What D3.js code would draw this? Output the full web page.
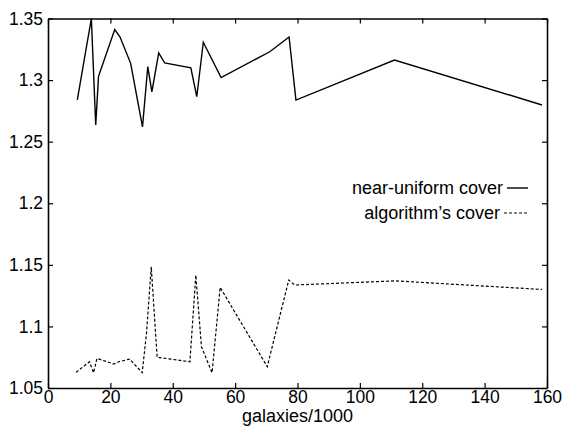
<!DOCTYPE html>
<html>
<head>
<meta charset="utf-8">
<script src="https://cdn.jsdelivr.net/npm/d3@7"></script>
<style>
  body { margin: 0; background: #fff; }
  text { font-family: "Liberation Sans", Arial, sans-serif; fill: #000; }
</style>
</head>
<body>
<div id="chart"></div>
<script>
/* DATA */
const uniformX = [9.4, 13.9, 15.3, 16.2, 21.4, 23.1, 26.5, 30.3, 32.0, 33.3, 35.5, 37.4, 45.8, 47.7, 49.8, 55.5, 71.1, 77.3, 79.5, 111.1, 158.4];
const uniformY = [1.284, 1.350, 1.2635, 1.303, 1.341, 1.335, 1.3136, 1.262, 1.311, 1.2905, 1.322, 1.314, 1.310, 1.2865, 1.3307, 1.302, 1.323, 1.335, 1.2838, 1.3163, 1.2798];

const algoX = [9.0, 13.3, 14.6, 15.7, 21.1, 22.7, 26.2, 30.2, 31.6, 33.1, 35.0, 45.5, 47.4, 49.2, 52.6, 55.2, 70.3, 77.2, 79.1, 111.4, 158.4];
const algoY = [1.0627, 1.0713, 1.0624, 1.074, 1.0695, 1.0713, 1.0735, 1.0624, 1.095, 1.1485, 1.075, 1.0713, 1.1417, 1.0835, 1.0624, 1.1317, 1.0673, 1.1377, 1.1336, 1.137, 1.130];

const xTicks = [0, 20, 40, 60, 80, 100, 120, 140, 160];
const yTicks = [1.05, 1.1, 1.15, 1.2, 1.25, 1.3, 1.35];
const legendLabels = ["near-uniform cover", "algorithm\u2019s cover"];
const xLabel = "galaxies/1000";

/* LAYOUT */
const width = 562, height = 427;
const margin = { top: 18.5, right: 15, bottom: 39, left: 48 };

const svg = d3.select("#chart").append("svg")
  .attr("width", width)
  .attr("height", height);

const xScale = d3.scaleLinear()
  .domain([0, 160])
  .range([margin.left, width - margin.right]);

const yScale = d3.scaleLinear()
  .domain([1.05, 1.35])
  .range([height - margin.bottom, margin.top]);

// axes, ticks point inward
const tickLen = 5;
const fmtY = d => d3.format(".2~f")(d);

svg.append("g")
  .attr("transform", `translate(0,${yScale(1.05)})`)
  .call(d3.axisBottom(xScale).tickValues(xTicks).tickSizeInner(-tickLen).tickSizeOuter(0).tickPadding(3))
  .call(g => g.selectAll("text").attr("font-size", 17.5));

svg.append("g")
  .attr("transform", `translate(0,${yScale(1.35)})`)
  .call(d3.axisTop(xScale).tickValues(xTicks).tickSizeInner(-tickLen).tickSizeOuter(0).tickFormat(""));

svg.append("g")
  .attr("transform", `translate(${xScale(0)},0)`)
  .call(d3.axisLeft(yScale).tickValues(yTicks).tickFormat(fmtY).tickSizeInner(-tickLen).tickSizeOuter(0).tickPadding(5))
  .call(g => g.selectAll("text").attr("font-size", 17.5));

svg.append("g")
  .attr("transform", `translate(${xScale(160)},0)`)
  .call(d3.axisRight(yScale).tickValues(yTicks).tickSizeInner(-tickLen).tickSizeOuter(0).tickFormat(""));

svg.selectAll(".domain").attr("stroke", "#000").attr("stroke-width", 1.6);
svg.selectAll(".tick line").attr("stroke", "#000").attr("stroke-width", 1.2);

// x axis title
svg.append("text")
  .attr("x", (xScale(0) + xScale(160)) / 2)
  .attr("y", 422)
  .attr("text-anchor", "middle")
  .attr("font-size", 18)
  .text(xLabel);

/* LINES */
const line = d3.line()
  .x(d => xScale(d[0]))
  .y(d => yScale(d[1]));

const uniformData = uniformX.map((x, i) => [x, uniformY[i]]);
const algoData = algoX.map((x, i) => [x, algoY[i]]);

svg.append("path")
  .datum(uniformData)
  .attr("fill", "none")
  .attr("stroke", "#000")
  .attr("stroke-width", 1.4)
  .attr("d", line);

svg.append("path")
  .datum(algoData)
  .attr("fill", "none")
  .attr("stroke", "#000")
  .attr("stroke-width", 1.2)
  .attr("stroke-dasharray", "3,2")
  .attr("d", line);

/* LEGEND */
const legend = svg.append("g");
const legendY = [188, 213];
const dashes = [null, "3,2"];
const sampleStart = [507, 504];

legendLabels.forEach((label, i) => {
  legend.append("text")
    .attr("x", sampleStart[i] - 4)
    .attr("y", legendY[i])
    .attr("dy", "0.35em")
    .attr("text-anchor", "end")
    .attr("font-size", 18)
    .text(label);
  legend.append("line")
    .attr("x1", sampleStart[i])
    .attr("x2", 528)
    .attr("y1", legendY[i])
    .attr("y2", legendY[i])
    .attr("stroke", "#000")
    .attr("stroke-width", i === 0 ? 1.4 : 1.2)
    .attr("stroke-dasharray", dashes[i]);
});
</script>
</body>
</html>
